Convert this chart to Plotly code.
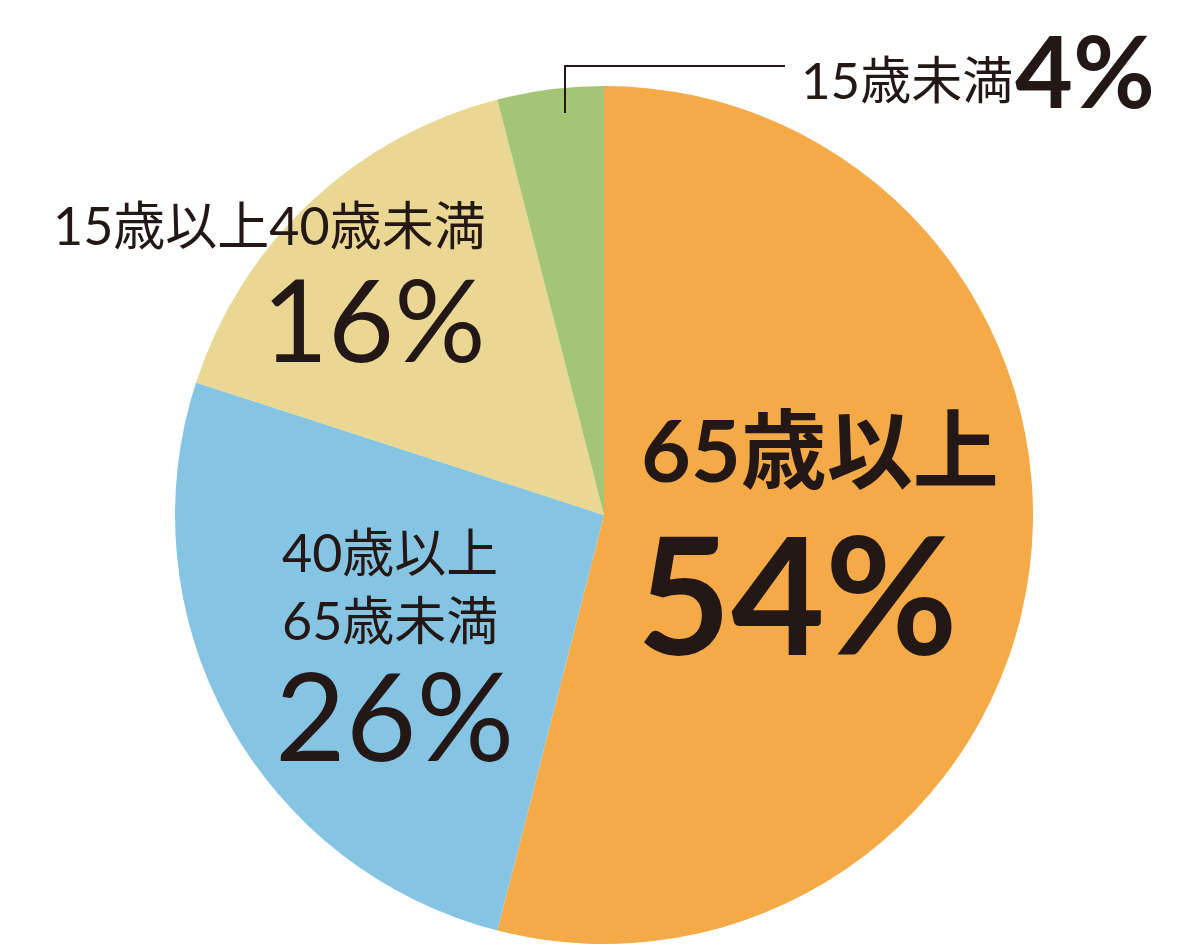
import plotly.graph_objects as go

labels = ["65歳以上", "40歳以上65歳未満", "15歳以上40歳未満", "15歳未満"]
values = [54, 26, 16, 4]
colors = ["#F5AA48", "#86C4E3", "#EAD793", "#A3C575"]

W, H = 1200, 951
OFF = 8  # page body margin in the browser
TXT = "#231815"
FONT = "Lato, 'Noto Sans CJK JP', sans-serif"

def px(x):
    return (x - OFF) / W

def py(y):
    return 1 - (y - OFF) / H

cx, cy, r = 604, 515, 429

fig = go.Figure(go.Pie(
    labels=labels, values=values, sort=False, direction="clockwise", rotation=0,
    marker=dict(colors=colors, line=dict(width=0)),
    textinfo="none", hoverinfo="label+percent", showlegend=False,
    domain=dict(x=[px(cx - r), px(cx + r)], y=[py(cy + r), py(cy - r)]),
))

def ann(text, x, y, size, xanchor="left", yanchor="middle", bold=False, height=None):
    fig.add_annotation(
        text=text, x=px(x), y=py(y), xref="paper", yref="paper",
        xanchor=xanchor, yanchor=yanchor, showarrow=False, height=height,
        font=dict(family=FONT, size=size, color=TXT, weight=700 if bold else 400),
    )

# 15歳未満 4%
ann(labels[3], 799, 80, 51)
ann(f"{values[3]}%", 1013, 69, 100, bold=True)
# 15歳以上40歳未満 16%
ann(labels[2], 51, 225, 52)
ann(f"{values[2]}%", 374, 317, 114, xanchor="center")
# 40歳以上65歳未満 26%
ann("40歳以上<br>65歳未満", 280, 586, 52, height=120)
ann(f"{values[1]}%", 394, 714, 122, xanchor="center", height=100)
# 65歳以上 54%
ann(labels[0], 820, 448, 86, xanchor="center", bold=True)
ann(f"{values[0]}%", 797, 592, 162, xanchor="center", bold=True)

# leader line for small slice
fig.add_shape(type="line", xref="paper", yref="paper",
              x0=px(565), y0=py(113), x1=px(565), y1=py(66),
              line=dict(color=TXT, width=2))
fig.add_shape(type="line", xref="paper", yref="paper",
              x0=px(564), y0=py(66), x1=px(785), y1=py(66),
              line=dict(color=TXT, width=2))

fig.update_layout(
    width=W, height=H, margin=dict(l=0, r=0, t=0, b=0),
    paper_bgcolor="white", plot_bgcolor="white",
)

fig.write_html("out.html")
